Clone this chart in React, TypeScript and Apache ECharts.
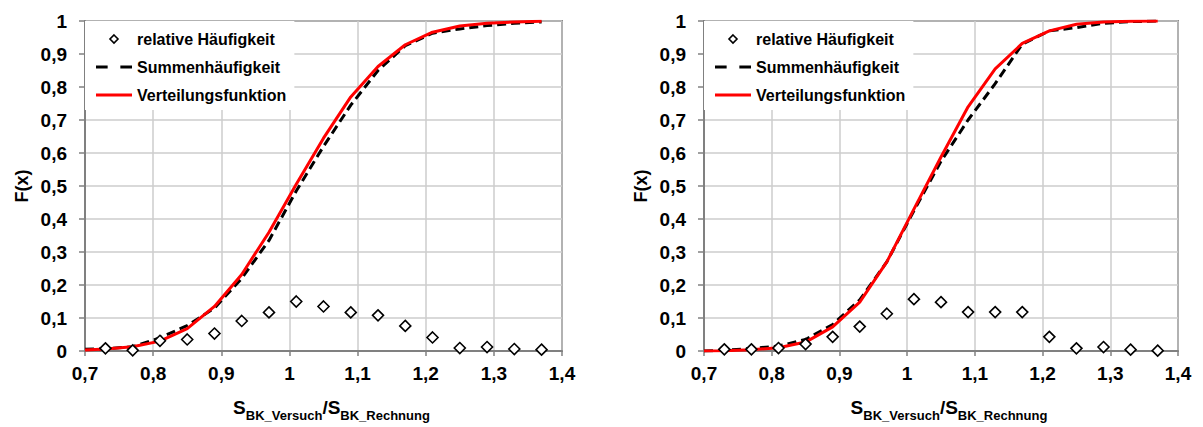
import { useEffect, useRef } from "react";
import * as echarts from "echarts";

// ---- data ----
const binCenters = [0.73, 0.77, 0.81, 0.85, 0.89, 0.93, 0.97, 1.01, 1.05, 1.09, 1.13, 1.17, 1.21, 1.25, 1.29, 1.33, 1.37];
const curveX = [0.7, 0.73, 0.77, 0.81, 0.85, 0.89, 0.93, 0.97, 1.01, 1.05, 1.09, 1.13, 1.17, 1.21, 1.25, 1.29, 1.33, 1.37];

// left chart
const relLeft = [0.008, 0.002, 0.031, 0.035, 0.053, 0.091, 0.117, 0.15, 0.135, 0.117, 0.108, 0.076, 0.041, 0.009, 0.012, 0.006, 0.004];
const sumLeft = [0.005, 0.007, 0.013, 0.04, 0.077, 0.13, 0.22, 0.335, 0.485, 0.62, 0.745, 0.85, 0.925, 0.963, 0.976, 0.986, 0.993, 0.997];
const distLeft = [0.003, 0.006, 0.013, 0.03, 0.068, 0.135, 0.232, 0.36, 0.505, 0.645, 0.77, 0.862, 0.928, 0.966, 0.985, 0.993, 0.997, 0.999];

// right chart
const relRight = [0.005, 0.005, 0.009, 0.021, 0.043, 0.074, 0.113, 0.157, 0.148, 0.118, 0.118, 0.118, 0.043, 0.008, 0.012, 0.004, 0.001];
const sumRight = [0.0, 0.002, 0.008, 0.015, 0.035, 0.08, 0.155, 0.27, 0.425, 0.575, 0.7, 0.81, 0.93, 0.97, 0.98, 0.993, 0.998, 1.0];
const distRight = [0.0, 0.001, 0.004, 0.01, 0.027, 0.073, 0.148, 0.27, 0.43, 0.588, 0.74, 0.855, 0.932, 0.97, 0.99, 0.997, 0.999, 1.0];

const xTicks = { min: 0.7, max: 1.4, interval: 0.1 };
const yTicks = { min: 0, max: 1, interval: 0.1 };

const seriesNames = ["relative Häufigkeit", "Summenhäufigkeit", "Verteilungsfunktion"];

const FONT = "'Liberation Sans', Arial, Helvetica, sans-serif";
const fmt = (v: number) => String(Math.round(v * 10) / 10).replace(".", ",");
const pairs = (xs: number[], ys: number[]) => xs.map((x, i) => [x, ys[i]]);

function makeXAxis(gridIndex: number) {
  return {
    type: "value",
    gridIndex,
    min: xTicks.min,
    max: xTicks.max,
    interval: xTicks.interval,
    axisLine: { show: true, lineStyle: { color: "#808080", width: 2 } },
    axisTick: { show: true, length: 5, lineStyle: { color: "#808080", width: 1.5 } },
    splitLine: { show: true, lineStyle: { color: "#cccccc", width: 1.5 } },
    axisLabel: {
      margin: 13,
      fontSize: 19,
      fontWeight: "bold",
      fontFamily: FONT,
      color: "#000",
      showMinLabel: true,
      showMaxLabel: true,
      formatter: fmt,
    },
    name: "{s|S}{sub|BK_Versuch}{s|/S}{sub|BK_Rechnung}",
    nameLocation: "middle",
    nameGap: 47,
    nameTextStyle: {
      padding: [0, 0, 0, 16],
      rich: {
        s: { fontSize: 19, fontWeight: "bold", fontFamily: FONT, color: "#000", lineHeight: 22, verticalAlign: "top" },
        sub: { fontSize: 13, fontWeight: "bold", fontFamily: FONT, color: "#000", lineHeight: 14, padding: [11, 0, 0, 0], verticalAlign: "top" },
      },
    },
  };
}

function makeYAxis(gridIndex: number) {
  return {
    type: "value",
    gridIndex,
    min: yTicks.min,
    max: yTicks.max,
    interval: yTicks.interval,
    axisLine: { show: true, lineStyle: { color: "#808080", width: 2 } },
    axisTick: { show: true, length: 6, lineStyle: { color: "#808080", width: 1.5 } },
    splitLine: { show: true, lineStyle: { color: "#cccccc", width: 1.5 } },
    axisLabel: {
      margin: 18,
      fontSize: 19,
      fontWeight: "bold",
      fontFamily: FONT,
      color: "#000",
      formatter: fmt,
    },
    name: "F(x)",
    nameLocation: "middle",
    nameRotate: 90,
    nameGap: 54,
    nameTextStyle: { fontSize: 18, fontWeight: "bold", fontFamily: FONT, color: "#000" },
  };
}

function makeLegend(left: number) {
  return {
    left,
    top: 21,
    orient: "vertical",
    backgroundColor: "#ffffff",
    padding: [10, 8, 7, 11],
    itemWidth: 36,
    itemHeight: 8,
    itemGap: 12,
    symbolKeepAspect: true,
    selectedMode: false,
    textStyle: { fontSize: 16, fontWeight: "bold", fontFamily: FONT, color: "#000", lineHeight: 16 },
    data: [
      { name: seriesNames[0], icon: "path://M5,0L10,5L5,10L0,5Z", itemStyle: { color: "#fff", borderColor: "#000", borderWidth: 1.6 } },
      { name: seriesNames[1], icon: "path://M0,0h11v3h-11z M23,0h11v3h-11z", itemStyle: { color: "#000", borderWidth: 0 } },
      { name: seriesNames[2], icon: "path://M0,0h38v3h-38z", itemStyle: { color: "#ff0000", borderWidth: 0 } },
    ],
  };
}

function makeSeries(idx: number, rel: number[], sum: number[], dist: number[]) {
  return [
    {
      name: seriesNames[1],
      type: "line",
      xAxisIndex: idx,
      yAxisIndex: idx,
      data: pairs(curveX, sum),
      symbol: "none",
      lineStyle: { color: "#000", width: 3, type: [9, 5] },
      itemStyle: { color: "#000" },
      z: 2,
    },
    {
      name: seriesNames[2],
      type: "line",
      xAxisIndex: idx,
      yAxisIndex: idx,
      data: pairs(curveX, dist),
      symbol: "none",
      lineStyle: { color: "#ff0000", width: 3 },
      itemStyle: { color: "#ff0000" },
      z: 3,
    },
    {
      name: seriesNames[0],
      type: "scatter",
      xAxisIndex: idx,
      yAxisIndex: idx,
      data: pairs(binCenters, rel),
      symbol: "diamond",
      symbolSize: [11, 11],
      itemStyle: { color: "#fff", borderColor: "#000", borderWidth: 1.6, opacity: 1 },
      z: 4,
    },
  ];
}

export default function App() {
  const ref = useRef<HTMLDivElement>(null);
  useEffect(() => {
    document.body.style.margin = "0";
    if (!ref.current) return;
    const chart = echarts.init(ref.current, null, { renderer: "svg" });
    chart.setOption({
      animation: false,
      backgroundColor: "#ffffff",
      grid: [
        { left: 85, top: 21, width: 477, height: 332, show: true, borderColor: "#333333", borderWidth: 1.5, backgroundColor: "transparent" },
        { left: 704, top: 21, width: 474, height: 332, show: true, borderColor: "#333333", borderWidth: 1.5, backgroundColor: "transparent" },
      ],
      xAxis: [makeXAxis(0), makeXAxis(1)],
      yAxis: [makeYAxis(0), makeYAxis(1)],
      legend: [makeLegend(85), makeLegend(704)],
      series: [
        ...makeSeries(0, relLeft, sumLeft, distLeft),
        ...makeSeries(1, relRight, sumRight, distRight),
      ],
    });
    return () => chart.dispose();
  }, []);
  return <div ref={ref} style={{ width: 1203, height: 427 }} />;
}
